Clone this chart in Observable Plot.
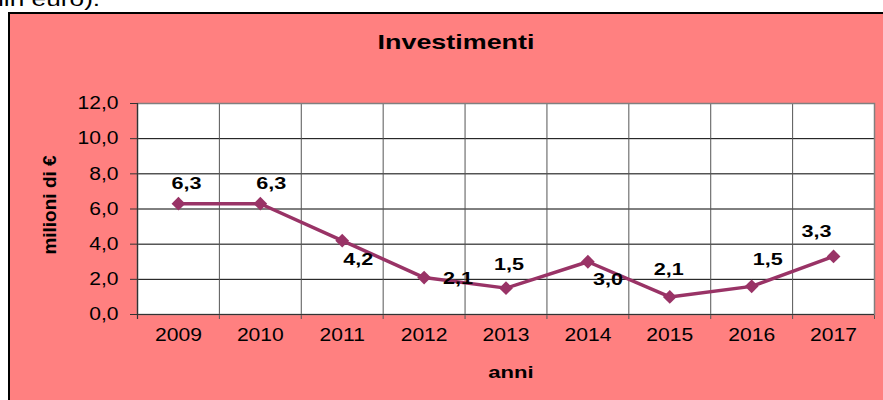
<!DOCTYPE html>
<html>
<head>
<meta charset="utf-8">
<script src="https://cdn.jsdelivr.net/npm/d3@7"></script>
<script src="https://cdn.jsdelivr.net/npm/@observablehq/plot@0.6"></script>
<style>
  html, body { margin: 0; padding: 0; background: #fff; }
  #wrap { position: relative; width: 883px; height: 400px; overflow: hidden; font-family: "Liberation Sans", Arial, sans-serif; }
  #panel { position: absolute; left: 8px; top: 12px; width: 900px; height: 420px; background: #FF8080; border-left: 2px solid #000; border-top: 2px solid #000; }
  #note { position: absolute; left: -18px; top: -12px; font-size: 21px; line-height: 21px; color: #000; white-space: nowrap; transform: scaleX(1.25); transform-origin: left top; }
  #chart { position: absolute; left: 0; top: 0; }
  #chart svg { overflow: visible; }
</style>
</head>
<body>
<div id="wrap">
  <div id="panel"></div>
  <div id="note">mln euro).</div>
  <div id="chart"></div>
</div>
<script>
// ---- data ----
const years = [2009, 2010, 2011, 2012, 2013, 2014, 2015, 2016, 2017];
const values = [6.3, 6.3, 4.2, 2.1, 1.5, 3.0, 1.0, 1.6, 3.3];
const labels = ["6,3", "6,3", "4,2", "2,1", "1,5", "3,0", "2,1", "1,5", "3,3"];
const yTicks = [0, 2, 4, 6, 8, 10, 12];
const titleText = "Investimenti";
const yTitle = "milioni di €";
const xTitle = "anni";

// ---- label placement (pixel offsets, styling only) ----
const labelOffsets = [
  [8, -20], [11, -20], [16, 19], [34, 1], [3, -23],
  [20, 18], [-1, -27], [16, -26], [-17, -25]
];

const data = years.map((yr, i) => ({year: yr, value: values[i], label: labels[i]}));
const boundaries = years.map(y => y - 0.5).concat([years[years.length - 1] + 0.5]);
const fmt = v => d3.format(".1f")(v).replace(".", ",");
const lineColor = "#993366";

const labelMarks = data.map((d, i) => Plot.text([d], {
  x: "year", y: "value", text: "label",
  dx: labelOffsets[i][0], dy: labelOffsets[i][1],
  fontSize: 16, fontWeight: "bold", fill: "#000",
  ariaLabel: () => "data labels"
}));

const chart = Plot.plot({
  width: 883,
  height: 400,
  marginLeft: 137,
  marginRight: 9,
  marginTop: 103,
  marginBottom: 86,
  style: {background: "transparent", fontFamily: "Liberation Sans, Arial, sans-serif", color: "#000"},
  x: {type: "linear", domain: [years[0] - 0.5, years[years.length - 1] + 0.5]},
  y: {domain: [0, 12]},
  marks: [
    Plot.frame({fill: "white", stroke: "none"}),
    Plot.ruleY(yTicks.filter(v => v > 0), {stroke: "#000", strokeWidth: 1}),
    Plot.ruleX(boundaries, {stroke: "#555", strokeWidth: 1, insetBottom: -5}),
    Plot.frame({stroke: "#808080", strokeWidth: 1.5}),
    Plot.ruleY([0], {stroke: "#333", strokeWidth: 1.2}),
    Plot.ruleX([boundaries[0]], {stroke: "#333", strokeWidth: 1.2, insetBottom: -5}),
    Plot.axisY(yTicks, {tickSize: 7, tickPadding: 12, tickFormat: fmt, fontSize: 18, label: null, stroke: "#333"}),
    Plot.axisX(years, {tickSize: 0, tickPadding: 14, tickFormat: d => String(d), fontSize: 18, label: null}),
    Plot.line(data, {x: "year", y: "value", stroke: lineColor, strokeWidth: 3.5}),
    Plot.dot(data, {x: "year", y: "value", symbol: "diamond2", r: 6.2, fill: lineColor, stroke: "none"}),
    ...labelMarks,
    Plot.text([titleText], {frameAnchor: "top", textAnchor: "middle", lineAnchor: "middle", dx: -50, dy: -61, fontSize: 21, fontWeight: "bold", ariaLabel: () => "title"}),
    Plot.text([yTitle], {frameAnchor: "left", textAnchor: "middle", lineAnchor: "middle", dx: -88, dy: -4, rotate: -90, fontSize: 19, fontWeight: "bold", ariaLabel: () => "y label"}),
    Plot.text([xTitle], {frameAnchor: "bottom", textAnchor: "middle", lineAnchor: "middle", dx: 5, dy: 58, fontSize: 17, fontWeight: "bold", ariaLabel: () => "x label"})
  ]
});
document.getElementById("chart").appendChild(chart);

// horizontal stretch of glyphs, as in the reference picture
function stretch(selector, k) {
  chart.querySelectorAll(selector).forEach(el => {
    const w = el.getComputedTextLength();
    if (w > 0) {
      el.setAttribute("textLength", (w * k).toFixed(1));
      el.setAttribute("lengthAdjust", "spacingAndGlyphs");
    }
  });
}
stretch('g[aria-label*="tick label"] text', 1.17);
stretch('text[aria-label="data labels"]', 1.35);
stretch('text[aria-label="title"]', 1.28);
stretch('text[aria-label="x label"]', 1.3);
</script>
</body>
</html>
